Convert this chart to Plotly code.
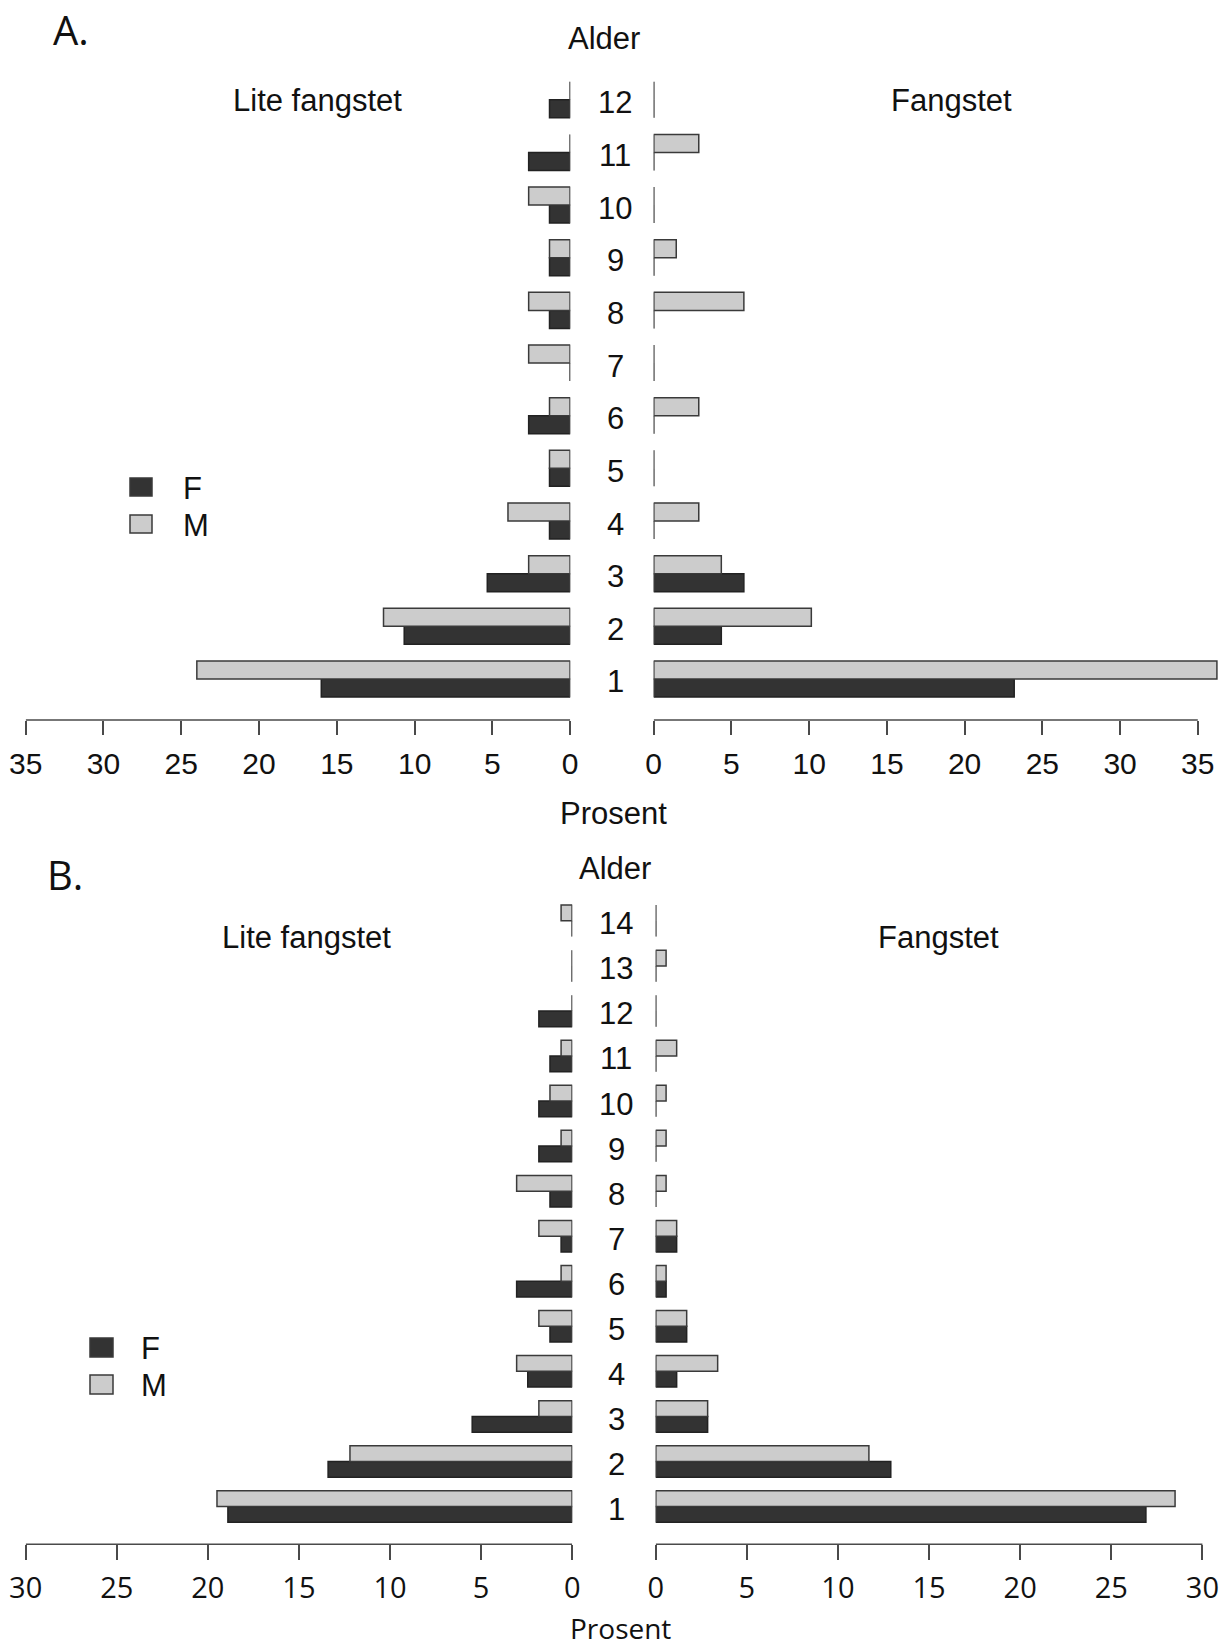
import plotly.graph_objects as go

# ---------------- data ----------------
ages_A = [1, 2, 3, 4, 5, 6, 7, 8, 9, 10, 11, 12]
A_lite_F = [16.0, 10.67, 5.33, 1.33, 1.33, 2.67, 0, 1.33, 1.33, 1.33, 2.67, 1.33]
A_lite_M = [24.0, 12.0, 2.67, 4.0, 1.33, 1.33, 2.67, 2.67, 1.33, 2.67, 0, 0]
A_fang_F = [23.19, 4.35, 5.80, 0, 0, 0, 0, 0, 0, 0, 0, 0]
A_fang_M = [36.23, 10.14, 4.35, 2.90, 0, 2.90, 0, 5.80, 1.45, 0, 2.90, 0]
A_ticks = [0, 5, 10, 15, 20, 25, 30, 35]

ages_B = [1, 2, 3, 4, 5, 6, 7, 8, 9, 10, 11, 12, 13, 14]
B_lite_F = [18.9, 13.4, 5.49, 2.44, 1.22, 3.05, 0.61, 1.22, 1.83, 1.83, 1.22, 1.83, 0, 0]
B_lite_M = [19.5, 12.2, 1.83, 3.05, 1.83, 0.61, 1.83, 3.05, 0.61, 1.22, 0.61, 0, 0, 0.61]
B_fang_F = [26.9, 12.9, 2.85, 1.15, 1.70, 0.57, 1.15, 0, 0, 0, 0, 0, 0, 0]
B_fang_M = [28.5, 11.7, 2.85, 3.40, 1.70, 0.57, 1.15, 0.57, 0.57, 0.57, 1.15, 0, 0.57, 0]
B_ticks = [0, 5, 10, 15, 20, 25, 30]

sex_labels = ["F", "M"]
side_labels = ["Lite fangstet", "Fangstet"]

# ---------------- style ----------------
W, H = 1228, 1649
COL_F = "#333333"
COL_M = "#cccccc"
EDGE = "#3a3a3a"
AXC = "#4a4a4a"
ARIAL = "Liberation Sans, Arial, sans-serif"
OPEN = "Open Sans, sans-serif"


def px(x):
    return x / W


def py(y):
    return 1 - y / H


fig = go.Figure()

panels = [
    dict(ages=ages_A, left=(A_lite_F, A_lite_M), right=(A_fang_F, A_fang_M), ticks=A_ticks,
         lx=(25.7, 570.2), rx0=653.7, ppu=544.1 / 35, axis_y=720.0, c1=679.0, step=52.66,
         hw=0.342, ticklen=14, tickfont=ARIAL, ts=30, xs=("x", "x2"), ys=("y", "y2"),
         lab_x=615),
    dict(ages=ages_B, left=(B_lite_F, B_lite_M), right=(B_fang_F, B_fang_M), ticks=B_ticks,
         lx=(25.7, 572.2), rx0=655.7, ppu=546.7 / 30, axis_y=1544.3, c1=1506.5, step=45.05,
         hw=0.35, ticklen=15, tickfont=OPEN, ts=29, xs=("x3", "x4"), ys=("y3", "y4"),
         lab_x=616),
]

layout_axes = {}
shapes = []
annotations = []

for p in panels:
    ages = p["ages"]
    tmax = max(p["ticks"])
    hw = p["hw"]
    ybot = ages[0] - (p["axis_y"] - p["c1"]) / p["step"]
    ytop = ages[-1] + 0.7
    ytop_px = p["c1"] - (ytop - ages[0]) * p["step"]
    ydom = [py(p["axis_y"]), py(ytop_px)]

    for side, (xname, yname) in enumerate(zip(p["xs"], p["ys"])):
        vals_F, vals_M = p["left"] if side == 0 else p["right"]
        vmax = max(max(vals_F), max(vals_M), tmax)
        if side == 0:
            xdom = [px(p["lx"][0]), px(p["lx"][1])]
            xrange = [tmax, 0]
        else:
            rng = max(tmax, vmax + 0.4)
            xdom = [px(p["rx0"]), px(p["rx0"] + rng * p["ppu"])]
            xrange = [0, rng]
        zx, zy = [], []
        for a in ages:
            zx += [0, 0, None]
            zy += [a - hw, a + hw, None]
        fig.add_trace(go.Scatter(x=zx, y=zy, mode="lines", line=dict(color="#555555", width=1.3),
                                 xaxis=xname, yaxis=yname, showlegend=False, hoverinfo="skip"))
        fig.add_trace(go.Bar(x=vals_F, y=ages, orientation="h", width=hw, offset=-hw,
                             marker=dict(color=COL_F, line=dict(color="#222222", width=1.5)),
                             xaxis=xname, yaxis=yname, showlegend=False, name="F"))
        fig.add_trace(go.Bar(x=vals_M, y=ages, orientation="h", width=hw, offset=0,
                             marker=dict(color=COL_M, line=dict(color=EDGE, width=1.5)),
                             xaxis=xname, yaxis=yname, showlegend=False, name="M"))
        xkey = "xaxis" + xname[1:]
        ykey = "yaxis" + yname[1:]
        layout_axes[xkey] = dict(domain=xdom, range=xrange, anchor=yname, showgrid=False,
                                 zeroline=False, showline=False, ticks="outside",
                                 ticklen=p["ticklen"], tickwidth=1.5, tickcolor=AXC,
                                 tickvals=p["ticks"], ticktext=[str(t) for t in p["ticks"]],
                                 tickfont=dict(family=p["tickfont"], size=p["ts"], color="#111"),
                                 ticklabelstandoff=3, fixedrange=True, automargin=False)
        layout_axes[ykey] = dict(domain=ydom, range=[ybot, ytop], anchor=xname, visible=False,
                                 fixedrange=True, automargin=False)
        shapes.append(dict(type="line", xref=xname, yref="paper", x0=min(p["ticks"]),
                           x1=tmax, y0=ydom[0], y1=ydom[0], line=dict(color=AXC, width=1.5)))
    for a in ages:
        annotations.append(dict(x=px(p["lab_x"]), xref="paper", y=a, yref=p["ys"][0],
                                text=str(a), showarrow=False, xanchor="center", yanchor="middle",
                                yshift=-3, font=dict(family=ARIAL, size=31, color="#111")))


def txt(x, y, s, size, fam=ARIAL):
    annotations.append(dict(x=px(x), y=py(y), xref="paper", yref="paper", text=s,
                            showarrow=False, xanchor="center", yanchor="middle",
                            font=dict(family=fam, size=size, color="#111")))


txt(71, 29, "A.", 40, OPEN)
txt(604, 38, "Alder", 31)
txt(317, 100, side_labels[0], 31)
txt(951, 100, side_labels[1], 31)
txt(613, 813, "Prosent", 31)
txt(65, 874, "B.", 40, OPEN)
txt(615, 868, "Alder", 31)
txt(306, 937, side_labels[0], 31)
txt(938, 937, side_labels[1], 31)
txt(620, 1628, "Prosent", 28, OPEN)

legends = [
    dict(sx=(130, 152), ys=((478, 496), (515, 533)), tx=181),
    dict(sx=(90, 113), ys=((1338, 1357), (1375, 1394)), tx=139),
]
for lg in legends:
    for (y0, y1), lab, col in zip(lg["ys"], sex_labels, [COL_F, COL_M]):
        shapes.append(dict(type="rect", xref="paper", yref="paper", x0=px(lg["sx"][0]),
                           x1=px(lg["sx"][1]), y0=py(y1), y1=py(y0), fillcolor=col,
                           line=dict(color=EDGE, width=1.5)))
        annotations.append(dict(x=px(lg["tx"]), y=py((y0 + y1) / 2 + 1), xref="paper", yref="paper",
                                text=lab, showarrow=False, xanchor="left", yanchor="middle",
                                font=dict(family=ARIAL, size=31, color="#111")))

fig.update_layout(width=W, height=H, margin=dict(l=0, r=0, t=0, b=0, autoexpand=False),
                  paper_bgcolor="white", plot_bgcolor="white", barmode="overlay",
                  shapes=shapes, annotations=annotations, showlegend=False, **layout_axes)

fig.write_html("out.html", config={"displayModeBar": False},
               post_script="document.body.style.margin='0';document.body.style.overflow='hidden';")
